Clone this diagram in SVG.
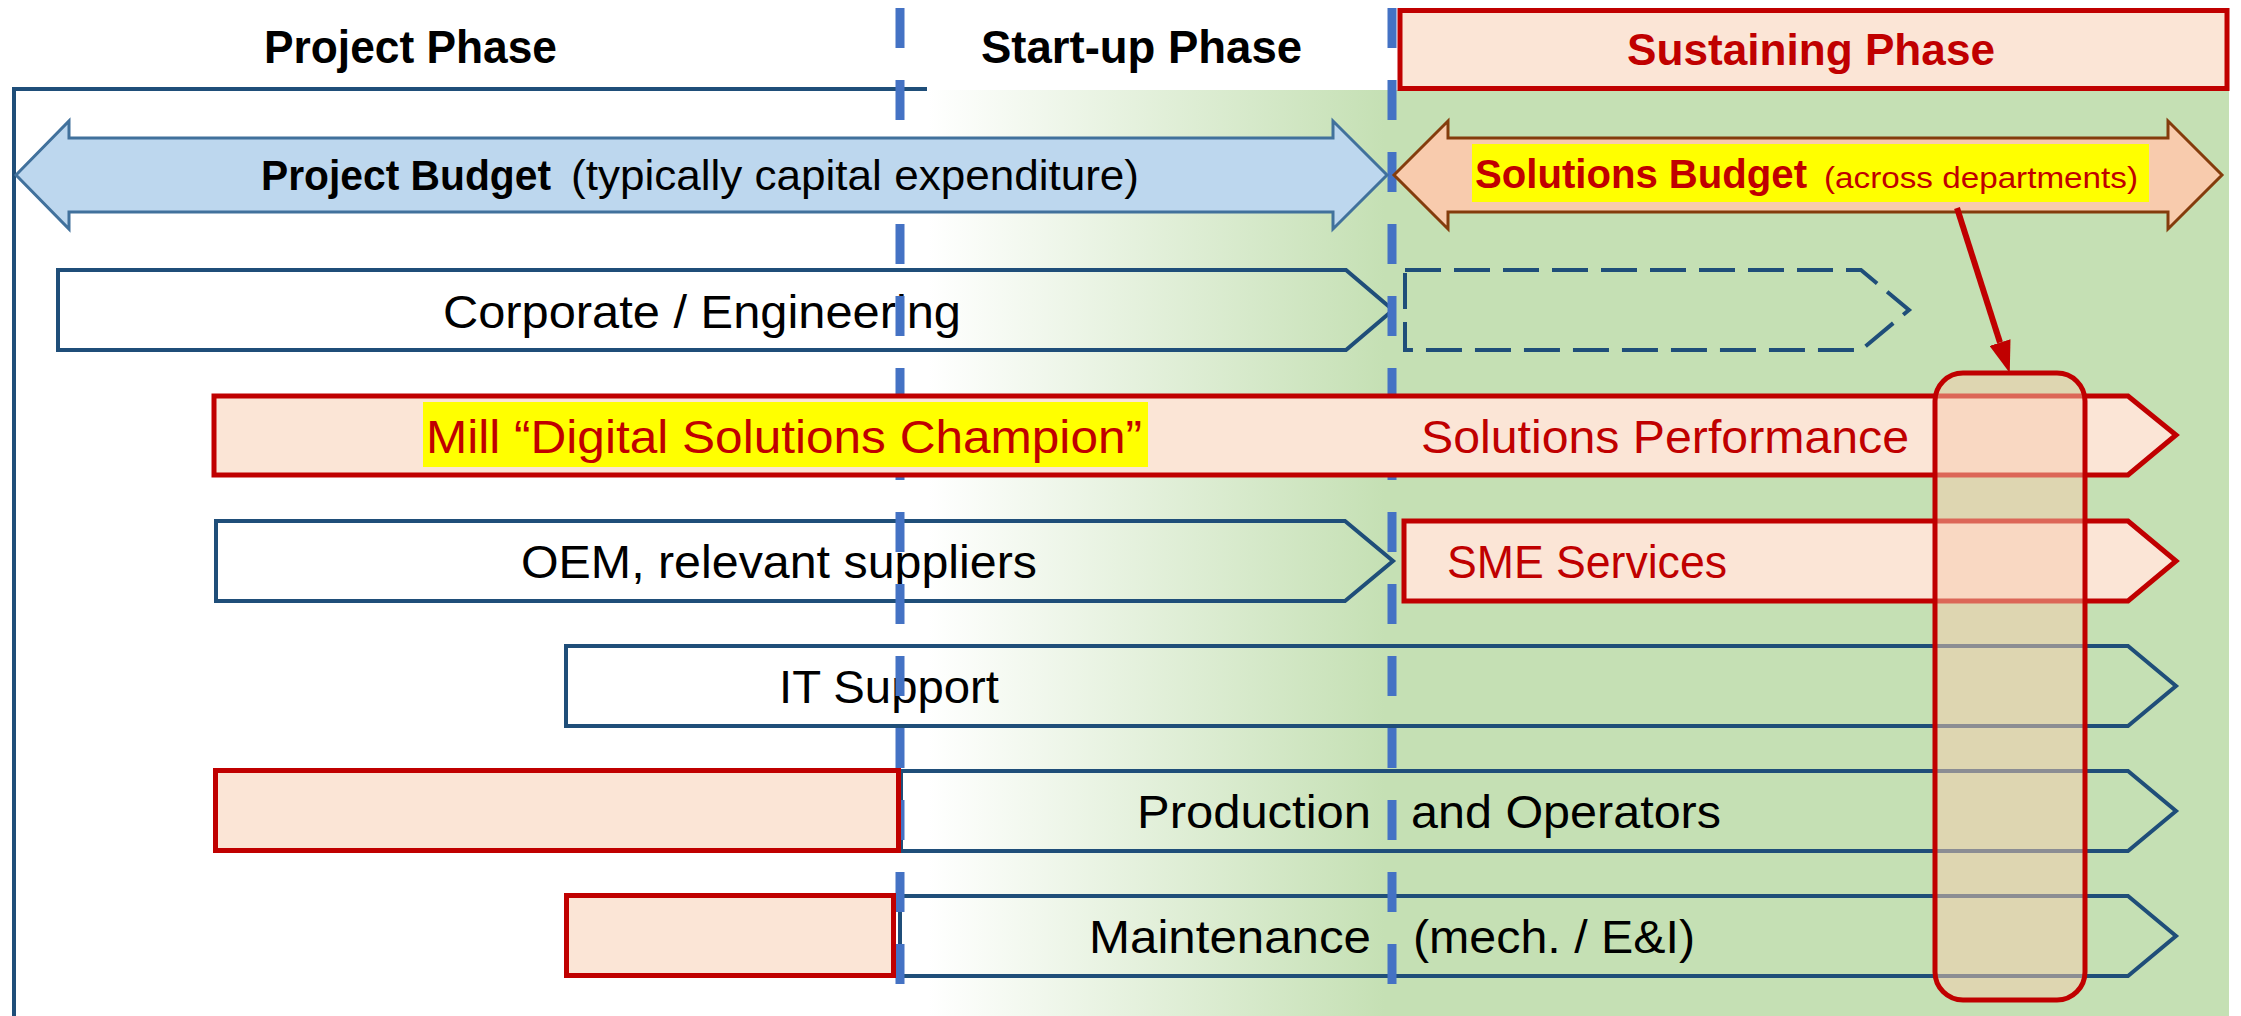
<svg xmlns="http://www.w3.org/2000/svg" width="2241" height="1016" viewBox="0 0 2241 1016">
<defs>
<linearGradient id="bgGrad" gradientUnits="userSpaceOnUse" x1="928" y1="0" x2="1385" y2="0">
<stop offset="0" stop-color="#FFFFFF"/>
<stop offset="1" stop-color="#C5E0B4"/>
</linearGradient>
<marker id="redHead" markerUnits="userSpaceOnUse" viewBox="0 0 32 22" markerWidth="32" markerHeight="22" refX="0" refY="11" orient="auto">
<path d="M0,0 L32,11 L0,22 Z" fill="#C00000"/>
</marker>
</defs>
<style>
text{font-family:"Liberation Sans",Arial,sans-serif;fill:#000000;}
.t{font-size:46px;}
.b{font-weight:bold;}
.red{fill:#C00000;}
.blue{fill:none;stroke:#1F4E79;stroke-width:4;}
.dash{stroke-dasharray:36 13;}
.redbox{fill:#FBE5D6;stroke:#C00000;stroke-width:5;}
.hl{fill:#FFFF00;}
.divider{stroke:#4472C4;stroke-width:9;stroke-dasharray:40 32;fill:none;}
.frame{stroke:#1F4E79;stroke-width:4;fill:none;}
</style>
<rect x="0" y="0" width="2241" height="1016" fill="#FFFFFF"/>
<rect id="sustain-bg" x="928" y="90" width="1301" height="926" fill="url(#bgGrad)"/>
<g id="frame">
<path class="frame" d="M14,1016 L14,89 L927,89"/>
</g>
<g id="row-corporate">
<path class="blue" d="M58,270 L1346,270 L1393,310 L1346,350 L58,350 Z"/>
<path class="blue dash" d="M1405,270 L1861,270 L1909,310 L1861,350 L1405,350 Z"/>
<text class="t" x="443" y="328" textLength="518" lengthAdjust="spacingAndGlyphs">Corporate / Engineering</text>
</g>
<g id="row-oem">
<path class="blue" d="M216,521 L1345,521 L1393,561 L1345,601 L216,601 Z"/>
<text class="t" x="521" y="578" textLength="516" lengthAdjust="spacingAndGlyphs">OEM, relevant suppliers</text>
</g>
<g id="row-it">
<path class="blue" d="M566,646 L2128,646 L2176,686 L2128,726 L566,726 Z"/>
<text class="t" x="779" y="703" textLength="220" lengthAdjust="spacingAndGlyphs">IT Support</text>
</g>
<g id="row-production-blue">
<path class="blue" d="M901,771 L2128,771 L2176,811 L2128,851 L901,851 Z"/>
</g>
<g id="row-maintenance-blue">
<path class="blue" d="M900,896 L2128,896 L2176,936 L2128,976 L900,976 Z"/>
</g>
<g id="phase-dividers">
<line class="divider" x1="900" y1="8" x2="900" y2="1016"/>
<line class="divider" x1="1392" y1="8" x2="1392" y2="1016"/>
</g>
<g id="phase-titles">
<text class="t b" x="264" y="63" textLength="293" lengthAdjust="spacingAndGlyphs">Project Phase</text>
<text class="t b" x="981" y="63" textLength="321" lengthAdjust="spacingAndGlyphs">Start-up Phase</text>
</g>
<g id="sustaining-phase">
<rect class="redbox" x="1400" y="10.5" width="827" height="78"/>
<text class="b red" x="1627" y="65" font-size="44" textLength="368" lengthAdjust="spacingAndGlyphs">Sustaining Phase</text>
</g>
<g id="project-budget">
<path d="M16,175 L69,121 L69,138 L1333,138 L1333,121 L1387,175 L1333,229 L1333,212 L69,212 L69,229 Z" fill="#BDD7EE" stroke="#41719C" stroke-width="3"/>
<text y="190" font-size="42"><tspan class="b" x="261" textLength="290" lengthAdjust="spacingAndGlyphs">Project Budget</tspan><tspan x="571" textLength="568" lengthAdjust="spacingAndGlyphs">(typically capital expenditure)</tspan></text>
</g>
<g id="solutions-budget">
<path d="M1394,175 L1448,121 L1448,138 L2168,138 L2168,121 L2222,175 L2168,229 L2168,212 L1448,212 L1448,229 Z" fill="#F8CBAD" stroke="#843C0C" stroke-width="3"/>
<rect class="hl" x="1472" y="144" width="677" height="58"/>
<text class="red" y="188"><tspan class="b" x="1475" font-size="41" textLength="332" lengthAdjust="spacingAndGlyphs">Solutions Budget</tspan><tspan x="1824" font-size="30" textLength="314" lengthAdjust="spacingAndGlyphs">(across departments)</tspan></text>
</g>
<g id="row-mill">
<path class="redbox" d="M214,396 L2128,396 L2176,435 L2128,475 L214,475 Z"/>
<rect class="hl" x="423" y="402" width="725" height="65"/>
<text class="t red" x="426" y="453" textLength="716" lengthAdjust="spacingAndGlyphs">Mill “Digital Solutions Champion”</text>
<text class="t red" x="1421" y="453" textLength="488" lengthAdjust="spacingAndGlyphs">Solutions Performance</text>
</g>
<g id="row-sme">
<path class="redbox" d="M1404,521 L2128,521 L2176,561 L2128,601 L1404,601 Z"/>
<text class="t red" x="1447" y="578" textLength="280" lengthAdjust="spacingAndGlyphs">SME Services</text>
</g>
<g id="row-production">
<rect class="redbox" x="215.5" y="770.5" width="683" height="80"/>
<text class="t" y="828"><tspan x="1137" textLength="234" lengthAdjust="spacingAndGlyphs">Production</tspan><tspan x="1411" textLength="310" lengthAdjust="spacingAndGlyphs">and Operators</tspan></text>
</g>
<g id="row-maintenance">
<rect class="redbox" x="566.5" y="895.5" width="327" height="80"/>
<text class="t" y="953"><tspan x="1089" textLength="282" lengthAdjust="spacingAndGlyphs">Maintenance</tspan><tspan x="1413" textLength="282" lengthAdjust="spacingAndGlyphs">(mech. / E&amp;I)</tspan></text>
</g>
<g id="budget-focus">
<rect x="1935" y="373" width="150" height="627" rx="28" ry="28" fill="#F8CBAD" fill-opacity="0.5" stroke="#C00000" stroke-width="5"/>
</g>
<g id="connectors">
<line x1="1957" y1="208" x2="2000" y2="342.5" stroke="#C00000" stroke-width="6" marker-end="url(#redHead)"/>
</g>
</svg>
